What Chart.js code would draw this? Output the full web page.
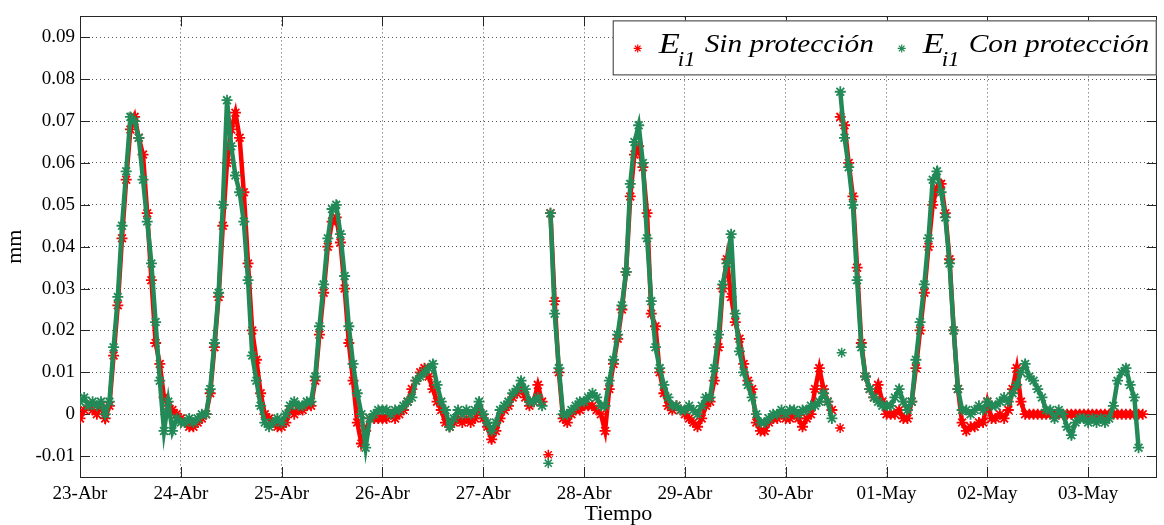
<!DOCTYPE html>
<html>
<head>
<meta charset="utf-8">
<script src="https://cdn.jsdelivr.net/npm/chart.js@4/dist/chart.umd.min.js"></script>
<style>
html, body { margin: 0; padding: 0; background: #fff; }
canvas { display: block; }
</style>
</head>
<body>
<canvas id="grafico" width="1164" height="525"></canvas>
<script>

// eje x en dias desde 23-Abr 00:00, un dato cada hora
const etiquetasDias = ['23-Abr', '24-Abr', '25-Abr', '26-Abr', '27-Abr', '28-Abr', '29-Abr', '30-Abr', '01-May', '02-May', '03-May'];
const ticksY = [-0.01, 0, 0.01, 0.02, 0.03, 0.04, 0.05, 0.06, 0.07, 0.08, 0.09];
const etiquetasY = ['-0.01', '0', '0.01', '0.02', '0.03', '0.04', '0.05', '0.06', '0.07', '0.08', '0.09'];
const HORAS_DIA = 24;

// E_i1 sin proteccion (mm)
const sinProteccion = [
    // 23-Abr
    -0.001, 0.001, 0.002, 0.001, 0.000, 0.002, -0.001, 0.002, 0.014, 0.026, 0.042, 0.056, 0.068, 0.071, 0.066, 0.062, 0.048, 0.032, 0.017, 0.012, 0.004, 0.002, 0.001, 0.000,
    // 24-Abr
    -0.001, -0.002, -0.003, -0.003, -0.002, -0.001, 0.000, 0.005, 0.016, 0.028, 0.045, 0.060, 0.068, 0.072, 0.066, 0.053, 0.036, 0.020, 0.013, 0.005, 0.000, -0.001, -0.002, -0.003,
    // 25-Abr
    -0.003, -0.002, 0.001, 0.000, 0.001, 0.001, 0.002, 0.002, 0.008, 0.019, 0.029, 0.040, 0.046, 0.047, 0.041, 0.030, 0.017, 0.008, -0.002, -0.007, -0.004, -0.001, -0.001, -0.001,
    // 26-Abr
    -0.001, -0.001, 0.000, -0.001, 0.000, 0.001, 0.003, 0.006, 0.008, 0.010, 0.011, 0.009, 0.006, 0.003, 0.001, -0.002, -0.003, -0.002, -0.001, -0.002, -0.001, -0.002, -0.001, 0.001,
    // 27-Abr
    -0.001, -0.003, -0.006, -0.004, -0.001, 0.001, 0.002, 0.004, 0.005, 0.006, 0.004, 0.002, 0.003, 0.007, 0.003, null, 0.048, 0.027, 0.010, -0.001, -0.002, 0.000, 0.001, 0.001,
    // 28-Abr
    0.002, 0.002, 0.002, 0.001, 0.000, -0.004, 0.006, 0.012, 0.018, 0.025, 0.034, 0.052, 0.062, 0.064, 0.059, 0.048, 0.024, 0.021, 0.010, 0.005, 0.002, 0.001, 0.002, 0.001,
    // 29-Abr
    0.000, -0.001, -0.002, -0.003, -0.001, 0.002, 0.003, 0.008, 0.016, 0.030, 0.037, 0.028, 0.022, 0.018, 0.012, 0.008, 0.006, -0.002, -0.004, -0.004, -0.002, -0.001, -0.001, 0.000,
    // 30-Abr
    -0.001, -0.001, 0.000, -0.001, -0.003, -0.001, 0.000, 0.006, 0.011, 0.006, 0.003, 0.001, null, 0.071, 0.069, 0.060, 0.052, 0.035, 0.017, 0.009, 0.006, 0.004, 0.007, 0.003,
    // 01-May
    0.000, 0.000, 0.000, 0.001, -0.001, -0.001, 0.003, 0.011, 0.020, 0.029, 0.040, 0.050, 0.054, 0.055, 0.048, 0.037, 0.020, 0.006, -0.002, -0.004, -0.003, -0.003, -0.002, -0.002,
    // 02-May
    0.003, -0.001, -0.001, 0.000, -0.001, 0.001, 0.006, 0.011, 0.003, 0.000, 0.000, 0.000, 0.000, 0.000, 0.000, 0.000, 0.000, 0.000, 0.000, 0.000, 0.000, 0.000, 0.000, 0.000,
    // 03-May
    0.000, 0.000, 0.000, 0.000, 0.000, 0.000, 0.000, 0.000, 0.000, 0.000, 0.000, 0.000, 0.000, 0.000
];

// E_i1 con proteccion (mm)
const conProteccion = [
    // 23-Abr
    0.003, 0.004, 0.002, 0.003, 0.002, 0.003, 0.000, 0.003, 0.016, 0.028, 0.045, 0.058, 0.071, 0.070, 0.066, 0.056, 0.046, 0.036, 0.022, 0.008, -0.004, 0.003, -0.004, -0.001,
    // 24-Abr
    -0.002, -0.002, -0.001, -0.002, -0.001, 0.000, 0.000, 0.006, 0.017, 0.029, 0.050, 0.075, 0.064, 0.057, 0.053, 0.046, 0.032, 0.014, 0.008, 0.002, -0.002, -0.003, -0.002, -0.001,
    // 25-Abr
    -0.002, 0.000, 0.002, 0.003, 0.002, 0.002, 0.003, 0.003, 0.009, 0.021, 0.031, 0.042, 0.049, 0.050, 0.043, 0.033, 0.021, 0.012, 0.005, 0.000, -0.008, -0.001, 0.000, 0.001,
    // 26-Abr
    0.001, 0.001, 0.000, 0.001, 0.001, 0.002, 0.003, 0.004, 0.008, 0.009, 0.010, 0.011, 0.012, 0.007, 0.003, 0.001, -0.003, -0.001, 0.001, 0.000, 0.001, 0.000, 0.001, 0.003,
    // 27-Abr
    0.000, -0.002, -0.004, -0.002, 0.001, 0.002, 0.003, 0.005, 0.006, 0.008, 0.006, 0.003, 0.003, 0.004, 0.002, null, 0.048, 0.024, 0.011, 0.000, 0.000, 0.001, 0.002, 0.003,
    // 28-Abr
    0.003, 0.004, 0.005, 0.004, 0.002, 0.002, 0.008, 0.013, 0.019, 0.026, 0.034, 0.055, 0.065, 0.069, 0.060, 0.042, 0.027, 0.016, 0.011, 0.007, 0.004, 0.002, 0.002, 0.001,
    // 29-Abr
    0.001, 0.002, 0.001, 0.000, 0.002, 0.004, 0.004, 0.011, 0.019, 0.031, 0.036, 0.043, 0.024, 0.015, 0.010, 0.007, 0.004, 0.000, -0.002, -0.002, -0.001, 0.000, 0.000, 0.001,
    // 30-Abr
    0.000, 0.001, 0.001, 0.000, 0.001, 0.001, 0.002, 0.002, 0.003, 0.005, 0.003, -0.001, null, 0.077, 0.066, 0.059, 0.050, 0.032, 0.016, 0.009, 0.006, 0.004, 0.003, 0.002,
    // 01-May
    0.002, 0.002, 0.004, 0.006, 0.003, 0.001, 0.003, 0.013, 0.022, 0.031, 0.042, 0.056, 0.058, 0.053, 0.047, 0.036, 0.020, 0.006, 0.001, 0.001, 0.000, 0.001, 0.002, 0.001,
    // 02-May
    0.003, 0.002, 0.002, 0.003, 0.004, 0.003, 0.005, 0.007, 0.010, 0.012, 0.009, 0.008, 0.006, 0.004, 0.001, 0.001, -0.001, 0.001, 0.000, -0.003, -0.005, -0.002, -0.001, -0.001,
    // 03-May
    -0.002, -0.001, -0.002, -0.001, -0.002, -0.001, 0.002, 0.008, 0.010, 0.011, 0.007, 0.004, -0.008
];

// puntos sueltos al reiniciar la toma de datos
const sinAisladosX = [4.645, 7.54];
const sinAisladosY = [-0.0097, -0.0033];
const conAisladosX = [4.645, 7.555];
const conAisladosY = [-0.0117, 0.0147];

const ROJO = '#ff0000';
const VERDE = '#238a57';
const FUENTE = "'Liberation Serif', 'Times New Roman', serif";


function aPuntos(serie) {
    return serie.map((v, i) => ({ x: i / HORAS_DIA, y: v }));
}

function aislados(xs, ys) {
    return xs.map((x, i) => ({ x: x, y: ys[i] }));
}

function serieLinea(datos, color, orden) {
    return {
        data: datos,
        showLine: true,
        borderColor: color,
        borderWidth: 4.5,
        pointStyle: 'star',
        pointRadius: 5.5,
        pointBorderWidth: 1.8,
        pointBorderColor: color,
        pointBackgroundColor: color,
        order: orden
    };
}

function serieSuelta(datos, color, orden) {
    return {
        data: datos,
        showLine: false,
        pointStyle: 'star',
        pointRadius: 5,
        pointBorderWidth: 1.5,
        pointBorderColor: color,
        order: orden
    };
}

function estrella(ctx, x, y, r) {
    const d = r * 0.7071;
    ctx.beginPath();
    ctx.moveTo(x - r, y); ctx.lineTo(x + r, y);
    ctx.moveTo(x, y - r); ctx.lineTo(x, y + r);
    ctx.moveTo(x - d, y - d); ctx.lineTo(x + d, y + d);
    ctx.moveTo(x - d, y + d); ctx.lineTo(x + d, y - d);
    ctx.stroke();
}

// texto un poco ensanchado, como en la figura original
function texto(ctx, txt, x, y, fuente) {
    ctx.save();
    ctx.font = fuente;
    ctx.translate(x, y);
    ctx.scale(1.15, 1);
    ctx.fillText(txt, 0, 0);
    ctx.restore();
}

function dibujarLeyenda(chart) {
    const ctx = chart.ctx;
    const a = chart.chartArea;
    const w = 544, h = 55;
    const x0 = a.right - w, y0 = a.top + 4;

    ctx.save();
    ctx.fillStyle = '#fff';
    ctx.fillRect(x0, y0, w, h);
    ctx.strokeStyle = '#333';
    ctx.lineWidth = 1;
    ctx.strokeRect(x0 + 0.5, y0 + 0.5, w - 1, h - 1);

    const entradas = [
        { color: ROJO, txt: 'Sin protección', dx: 0 },
        { color: VERDE, txt: 'Con protección', dx: 264 }
    ];

    entradas.forEach(e => {
        ctx.strokeStyle = e.color;
        ctx.lineWidth = 1.2;
        estrella(ctx, x0 + e.dx + 25, y0 + 28, 4);

        ctx.fillStyle = '#000';
        ctx.textBaseline = 'alphabetic';
        texto(ctx, 'E', x0 + e.dx + 46, y0 + 33, 'italic 30px ' + FUENTE);
        texto(ctx, 'i1', x0 + e.dx + 65, y0 + 46, 'italic 20px ' + FUENTE);
        texto(ctx, e.txt, x0 + e.dx + 92, y0 + 32, 'italic 25.5px ' + FUENTE);
    });
    ctx.restore();
}

// marco y marcas hacia dentro, estilo matlab
const marcoEjes = {
    id: 'marcoEjes',
    beforeDatasetsDraw(chart) {
        const { ctx, chartArea: a, scales: { x, y } } = chart;
        ctx.save();
        ctx.strokeStyle = '#262626';
        ctx.lineWidth = 1;
        ctx.beginPath();
        etiquetasDias.forEach((_, i) => {
            const px = Math.round(x.getPixelForValue(i)) + 0.5;
            ctx.moveTo(px, a.bottom); ctx.lineTo(px, a.bottom - 10);
            ctx.moveTo(px, a.top); ctx.lineTo(px, a.top + 10);
        });
        ticksY.forEach(v => {
            const py = Math.round(y.getPixelForValue(v)) + 0.5;
            ctx.moveTo(a.left, py); ctx.lineTo(a.left + 10, py);
            ctx.moveTo(a.right, py); ctx.lineTo(a.right - 10, py);
        });
        ctx.stroke();
        ctx.strokeRect(Math.round(a.left) + 0.5, Math.round(a.top) + 0.5,
            Math.round(a.right - a.left) - 1, Math.round(a.bottom - a.top));
        ctx.restore();
    },
    afterDraw(chart) {
        dibujarLeyenda(chart);
    }
};


const grafico = new Chart(document.getElementById('grafico'), {
    type: 'scatter',
    data: {
        datasets: [
            serieLinea(aPuntos(conProteccion), VERDE, 1),
            serieSuelta(aislados(conAisladosX, conAisladosY), VERDE, 1),
            serieLinea(aPuntos(sinProteccion), ROJO, 2),
            serieSuelta(aislados(sinAisladosX, sinAisladosY), ROJO, 2)
        ]
    },
    options: {
        responsive: false,
        animation: false,
        devicePixelRatio: 1,
        layout: { padding: { top: 13, right: 2, left: 0, bottom: 0 } },
        plugins: {
            legend: { display: false },
            tooltip: { enabled: false }
        },
        scales: {
            x: {
                type: 'linear',
                min: 0,
                max: 10.68,
                afterBuildTicks: s => { s.ticks = etiquetasDias.map((_, i) => ({ value: i })); },
                afterFit: s => { s.height = 48; },
                ticks: {
                    callback: v => etiquetasDias[v],
                    color: '#000',
                    font: { family: FUENTE, size: 19 },
                    padding: 6,
                    maxRotation: 0,
                    autoSkip: false
                },
                grid: { color: '#555', lineWidth: 1, drawTicks: false },
                border: { display: false, dash: [1, 3] },
                title: {
                    display: true,
                    text: 'Tiempo',
                    color: '#000',
                    font: { family: FUENTE, size: 22, lineHeight: 1 },
                    padding: { top: 0, bottom: 0 }
                }
            },
            y: {
                min: -0.015,
                max: 0.095,
                afterBuildTicks: s => { s.ticks = ticksY.map(v => ({ value: v })); },
                afterFit: s => { s.width = 80; },
                ticks: {
                    callback: (v, i) => etiquetasY[i],
                    color: '#000',
                    font: { family: FUENTE, size: 19 },
                    padding: 5
                },
                grid: { color: '#555', lineWidth: 1, drawTicks: false },
                border: { display: false, dash: [1, 3] },
                title: {
                    display: true,
                    text: 'mm',
                    color: '#000',
                    font: { family: FUENTE, size: 22, lineHeight: 1 },
                    padding: { top: 4, bottom: 0 }
                }
            }
        }
    },
    plugins: [marcoEjes]
});
</script>
</body>
</html>
